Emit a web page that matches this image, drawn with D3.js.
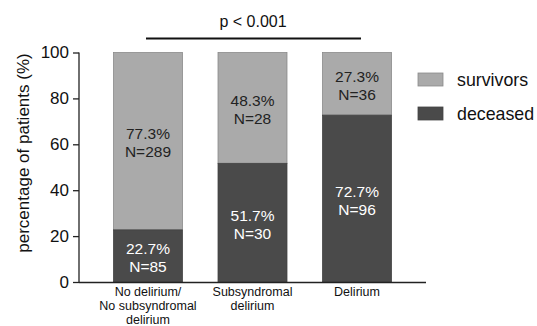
<!DOCTYPE html>
<html><head><meta charset="utf-8">
<script src="https://cdn.jsdelivr.net/npm/d3@7"></script>
<style>body{margin:0;background:#fff}svg{display:block;font-family:"Liberation Sans",Arial,sans-serif}</style>
</head><body><svg id="c" width="537" height="326"></svg>
<script>
const categories = [["No delirium/","No subsyndromal","delirium"],["Subsyndromal","delirium"],["Delirium"]];
const deceasedPct = [22.7, 51.7, 72.7];
const survivorsPct = [77.3, 48.3, 27.3];
const deceasedN = [85, 30, 96];
const survivorsN = [289, 28, 36];
const yTicks = [0, 20, 40, 60, 80, 100];
const seriesNames = ["survivors", "deceased"];
const colors = {survivors: "#aaaaaa", deceased: "#4a4a4a"};

const svg = d3.select("#c");
const x = d3.scaleBand().domain(d3.range(categories.length)).range([79, 426]).paddingInner(0.34).paddingOuter(0.33);
const y = d3.scaleLinear().domain([0, 100]).range([282, 52.5]);

// bars
categories.forEach((c, i) => {
  const bx = x(i), bw = x.bandwidth();
  svg.append("rect").attr("x", bx).attr("y", y(100)).attr("width", bw).attr("height", y(deceasedPct[i]) - y(100))
    .attr("fill", colors.survivors).attr("stroke", "#8a8a8a").attr("stroke-width", 0.8);
  svg.append("rect").attr("x", bx).attr("y", y(deceasedPct[i])).attr("width", bw).attr("height", y(0) - y(deceasedPct[i]))
    .attr("fill", colors.deceased).attr("stroke", "#444").attr("stroke-width", 0.8);
  const cx = bx + bw / 2;
  const sMid = (y(100) + y(deceasedPct[i])) / 2;
  const dMid = (y(deceasedPct[i]) + y(0)) / 2;
  const t1 = svg.append("text").attr("text-anchor", "middle").attr("font-size", 15.5).attr("fill", "#222");
  t1.append("tspan").attr("x", cx).attr("y", sMid - 2).text(survivorsPct[i].toFixed(1) + "%");
  t1.append("tspan").attr("x", cx).attr("y", sMid + 16).text("N=" + survivorsN[i]);
  const t2 = svg.append("text").attr("text-anchor", "middle").attr("font-size", 15.5).attr("fill", "#fff");
  t2.append("tspan").attr("x", cx).attr("y", dMid - 1.5).text(deceasedPct[i].toFixed(1) + "%");
  t2.append("tspan").attr("x", cx).attr("y", dMid + 16.5).text("N=" + deceasedN[i]);
  c.forEach((l, k) => svg.append("text").attr("text-anchor", "middle").attr("font-size", 12.5).attr("fill", "#111")
    .attr("x", cx).attr("y", 296 + k * 13.8).text(l));
});

// y axis
const ya = svg.append("g").attr("transform", "translate(79,0)")
  .call(d3.axisLeft(y).tickValues(yTicks).tickSize(6).tickPadding(4));
ya.select(".domain").attr("stroke", "#222").attr("stroke-width", 1.3).attr("d", `M0,${y(100)}V${y(0)+1}`);
ya.selectAll(".tick line").attr("stroke", "#222").attr("stroke-width", 1.3);
ya.selectAll(".tick text").attr("font-size", 17).attr("fill", "#111").attr("font-family", "Liberation Sans, Arial, sans-serif");

// x axis line
svg.append("line").attr("x1", 79).attr("x2", 426).attr("y1", 282.5).attr("y2", 282.5).attr("stroke", "#222").attr("stroke-width", 1.3);

// y title
svg.append("text").attr("transform", `translate(29,153) rotate(-90)`).attr("text-anchor", "middle")
  .attr("font-size", 17).attr("fill", "#111").text("percentage of patients (%)");

// significance
svg.append("line").attr("x1", 146).attr("x2", 361).attr("y1", 38.5).attr("y2", 38.5).attr("stroke", "#111").attr("stroke-width", 2.2);
svg.append("text").attr("x", 253).attr("y", 27).attr("text-anchor", "middle").attr("font-size", 16).attr("fill", "#111").text("p < 0.001");

// legend
seriesNames.forEach((s, i) => {
  const ly = 73 + i * 34;
  svg.append("rect").attr("x", 418).attr("y", ly).attr("width", 25).attr("height", 13)
    .attr("fill", colors[s]).attr("stroke", s === "survivors" ? "#8a8a8a" : "#444").attr("stroke-width", 0.8);
  svg.append("text").attr("x", 457).attr("y", ly + 12.5).attr("font-size", 17.8).attr("fill", "#111").text(s);
});
</script></body></html>
